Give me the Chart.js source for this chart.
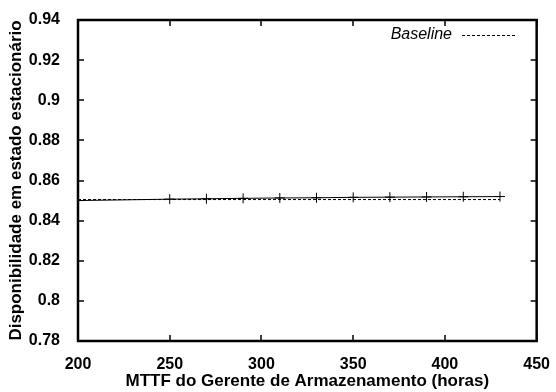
<!DOCTYPE html>
<html>
<head>
<meta charset="utf-8">
<script src="https://cdn.jsdelivr.net/npm/chart.js@4"></script>
<style>
  html, body { margin: 0; padding: 0; background: #fff; }
  #wrap { width: 556px; height: 392px; }
</style>
</head>
<body>
<div id="wrap"><canvas id="chart"></canvas></div>
<script>
const mttf = [200, 250, 270, 290, 310, 330, 350, 370, 390, 410, 430];
const availability = [0.8500, 0.8507, 0.8509, 0.8511, 0.8513, 0.8514, 0.8516, 0.8517, 0.8518, 0.8519, 0.8520];
const baselineX = [200, 430];
const baseline = [0.8505, 0.8505];
const xTicks = [200, 250, 300, 350, 400, 450];
const yTicks = [0.78, 0.8, 0.82, 0.84, 0.86, 0.88, 0.9, 0.92, 0.94];

const FONT = "'Liberation Sans', Arial, Helvetica, sans-serif";

// gnuplot style box with inward ticks on all four sides
const frame = {
  id: 'frame',
  afterDatasetsDraw(chart) {
    const { ctx, chartArea: { left, top, right, bottom }, scales: { x, y } } = chart;
    ctx.save();
    ctx.strokeStyle = '#000';
    ctx.lineWidth = 1.5;
    ctx.beginPath();
    xTicks.forEach((v) => {
      const px = Math.round(x.getPixelForValue(v));
      ctx.moveTo(px, bottom); ctx.lineTo(px, bottom - 6);
      ctx.moveTo(px, top); ctx.lineTo(px, top + 6);
    });
    yTicks.forEach((v) => {
      const py = Math.round(y.getPixelForValue(v));
      ctx.moveTo(left, py); ctx.lineTo(left + 6, py);
      ctx.moveTo(right, py); ctx.lineTo(right - 6, py);
    });
    ctx.stroke();
    ctx.lineWidth = 2.5;
    ctx.strokeRect(left, top, right - left, bottom - top);

    // key
    const ds = chart.data.datasets[1];
    ctx.font = 'italic 16px ' + FONT;
    ctx.fillStyle = '#000';
    ctx.textAlign = 'right';
    ctx.textBaseline = 'middle';
    ctx.fillText(ds.label, 452, 35);
    ctx.lineWidth = 1;
    ctx.setLineDash(ds.borderDash);
    ctx.beginPath();
    ctx.moveTo(462, 35.5); ctx.lineTo(516, 35.5);
    ctx.stroke();
    ctx.restore();
  },
};

new Chart(document.getElementById('chart'), {
  type: 'line',
  data: {
    datasets: [
      {
        label: 'MTTF',
        data: mttf.map((v, i) => ({ x: v, y: availability[i] })),
        borderColor: '#000',
        borderWidth: 1,
        pointStyle: 'cross',
        pointRadius: 5,
        pointBorderWidth: 1,
        pointBorderColor: '#000',
        tension: 0,
      },
      {
        label: 'Baseline',
        data: baselineX.map((v, i) => ({ x: v, y: baseline[i] })),
        borderColor: '#000',
        borderWidth: 1,
        borderDash: [3, 2],
        pointRadius: 0,
        tension: 0,
      },
    ],
  },
  options: {
    responsive: true,
    maintainAspectRatio: false,
    animation: false,
    layout: { padding: { left: 0, right: 18, top: 20, bottom: 0 } },
    scales: {
      x: {
        type: 'linear',
        min: 200,
        max: 450,
        afterBuildTicks(scale) { scale.ticks = xTicks.map((v) => ({ value: v })); },
        afterFit(scale) { scale.height = 51; },
        grid: { display: false },
        border: { display: false },
        ticks: {
          color: '#000',
          padding: 6,
          font: { family: FONT, size: 16, weight: 'bold' },
        },
        title: {
          display: true,
          text: 'MTTF do Gerente de Armazenamento (horas)',
          color: '#000',
          padding: { top: 2, bottom: 0 },
          font: { family: FONT, size: 17, weight: 'bold' },
        },
      },
      y: {
        type: 'linear',
        min: 0.78,
        max: 0.94,
        afterBuildTicks(scale) { scale.ticks = yTicks.map((v) => ({ value: v })); },
        afterFit(scale) { scale.width = 78; },
        grid: { display: false },
        border: { display: false },
        ticks: {
          color: '#000',
          padding: 10,
          font: { family: FONT, size: 16, weight: 'bold' },
          callback: (v) => String(Math.round(v * 100) / 100),
        },
        title: {
          display: true,
          text: 'Disponibilidade em estado estacionário',
          color: '#000',
          padding: { top: 6, bottom: 4 },
          font: { family: FONT, size: 17, weight: 'bold' },
        },
      },
    },
    plugins: {
      legend: { display: false },
      tooltip: { enabled: false },
    },
    events: [],
  },
  plugins: [frame],
});
</script>
</body>
</html>
